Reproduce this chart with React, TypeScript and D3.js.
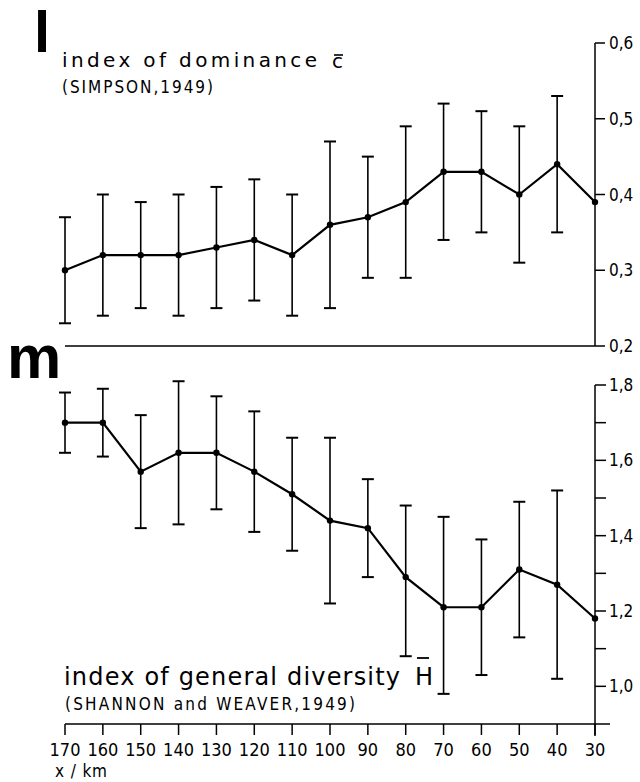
import * as d3 from "d3";

// distance along the transect, km
const km = [170, 160, 150, 140, 130, 120, 110, 100, 90, 80, 70, 60, 50, 40, 30];

// panel l: index of dominance (Simpson)
const dominance = [0.3, 0.32, 0.32, 0.32, 0.33, 0.34, 0.32, 0.36, 0.37, 0.39, 0.43, 0.43, 0.4, 0.44, 0.39];
const dominanceHigh = [0.37, 0.4, 0.39, 0.4, 0.41, 0.42, 0.4, 0.47, 0.45, 0.49, 0.52, 0.51, 0.49, 0.53, null];
const dominanceLow = [0.23, 0.24, 0.25, 0.24, 0.25, 0.26, 0.24, 0.25, 0.29, 0.29, 0.34, 0.35, 0.31, 0.35, null];

// panel m: index of general diversity (Shannon & Weaver)
const diversity = [1.7, 1.7, 1.57, 1.62, 1.62, 1.57, 1.51, 1.44, 1.42, 1.29, 1.21, 1.21, 1.31, 1.27, 1.18];
const diversityHigh = [1.78, 1.79, 1.72, 1.81, 1.77, 1.73, 1.66, 1.66, 1.55, 1.48, 1.45, 1.39, 1.49, 1.52, null];
const diversityLow = [1.62, 1.61, 1.42, 1.43, 1.47, 1.41, 1.36, 1.22, 1.29, 1.08, 0.98, 1.03, 1.13, 1.02, null];

const topTicks = [0.6, 0.5, 0.4, 0.3, 0.2];
const bottomTicks = [1.8, 1.7, 1.6, 1.5, 1.4, 1.3, 1.2, 1.1, 1.0];
const bottomLabelled = [1.8, 1.6, 1.4, 1.2, 1.0];

const W = 640;
const H = 782;
const FONT = "'DejaVu Sans', sans-serif";
const COND = "'DejaVu Sans Condensed', 'DejaVu Sans', sans-serif";
const BOLD = "'Liberation Sans', Arial, sans-serif";
const fmt = (v: number) => v.toFixed(1).replace(".", ",");

const x = d3.scaleLinear().domain([170, 30]).range([65, 595]);
const yTop = d3.scaleLinear().domain([0.2, 0.6]).range([346, 43]);
const yBot = d3.scaleLinear().domain([0.9, 1.8]).range([724, 385]);

function Series({ vals, hi, lo, y }) {
  const line = d3
    .line<number>()
    .x((_, i) => x(km[i]))
    .y((d) => y(d));
  return (
    <g>
      {km.map((k, i) =>
        hi[i] == null ? null : (
          <g key={k} stroke="#000" strokeWidth={1.6}>
            <line x1={x(k)} x2={x(k)} y1={y(hi[i])} y2={y(lo[i])} />
            <line x1={x(k) - 6} x2={x(k) + 6} y1={y(hi[i])} y2={y(hi[i])} strokeWidth={2} />
            <line x1={x(k) - 6} x2={x(k) + 6} y1={y(lo[i])} y2={y(lo[i])} strokeWidth={2} />
          </g>
        )
      )}
      <path d={line(vals) || ""} fill="none" stroke="#000" strokeWidth={2.2} />
      {vals.map((v, i) => (
        <circle key={i} cx={x(km[i])} cy={y(v)} r={3.2} fill="#000" />
      ))}
    </g>
  );
}

export default function App() {
  const axX = x(30);
  return (
    <svg
      width={W}
      height={H}
      style={{ position: "absolute", left: 0, top: 0, background: "#fff" }}
      fontFamily={FONT}
    >
      {/* panel letters */}
      <text x={34} y={52} fontFamily={BOLD} fontWeight="bold" fontSize={58}>
        l
      </text>
      <text x={7} y={378} fontFamily={BOLD} fontWeight="bold" fontSize={61}>
        m
      </text>

      {/* panel l */}
      <text x={62} y={67} fontSize={20} textLength={255} lengthAdjust="spacing">
        index of dominance
      </text>
      <text x={332} y={68} fontSize={20}>
        c
      </text>
      <line x1={334} x2={343} y1={55} y2={55} stroke="#000" strokeWidth={1.6} />
      <text x={62} y={93} fontSize={17} fontFamily={COND} textLength={151} lengthAdjust="spacing">
        (SIMPSON,1949)
      </text>

      <line x1={65} x2={axX} y1={yTop(0.2)} y2={yTop(0.2)} stroke="#000" strokeWidth={1.5} />
      <line x1={axX} x2={axX} y1={yTop(0.6)} y2={yTop(0.2)} stroke="#000" strokeWidth={1.5} />
      {topTicks.map((t) => (
        <g key={t}>
          <line x1={axX} x2={axX + 10} y1={yTop(t)} y2={yTop(t)} stroke="#000" strokeWidth={1.5} />
          <text x={axX + 14} y={yTop(t) + 6} fontSize={17} fontFamily={COND}>
            {fmt(t)}
          </text>
        </g>
      ))}
      <Series vals={dominance} hi={dominanceHigh} lo={dominanceLow} y={yTop} />

      {/* panel m */}
      <line x1={axX} x2={axX} y1={yBot(1.8)} y2={yBot(0.9) + 12} stroke="#000" strokeWidth={1.5} />
      {bottomTicks.map((t) => (
        <g key={t}>
          <line x1={axX} x2={axX + 11} y1={yBot(t)} y2={yBot(t)} stroke="#000" strokeWidth={1.5} />
          {bottomLabelled.includes(t) ? (
            <text x={axX + 14} y={yBot(t) + 6} fontSize={17} fontFamily={COND}>
              {fmt(t)}
            </text>
          ) : null}
        </g>
      ))}
      <Series vals={diversity} hi={diversityHigh} lo={diversityLow} y={yBot} />

      <text x={64} y={685} fontSize={24} textLength={336} lengthAdjust="spacing">
        index of general diversity
      </text>
      <text x={415} y={685} fontSize={24}>
        H
      </text>
      <line x1={417} x2={429} y1={658} y2={658} stroke="#000" strokeWidth={1.8} />
      <text x={65} y={710} fontSize={17} fontFamily={COND} textLength={290} lengthAdjust="spacing">
        (SHANNON and WEAVER,1949)
      </text>

      {/* x axis */}
      <line x1={65} x2={610} y1={724} y2={724} stroke="#000" strokeWidth={1.5} />
      {km.map((k) => (
        <g key={k}>
          <line x1={x(k)} x2={x(k)} y1={724} y2={735} stroke="#000" strokeWidth={1.5} />
          <text x={x(k)} y={756} fontSize={18} fontFamily={COND} textAnchor="middle">
            {k}
          </text>
        </g>
      ))}
      <text x={55} y={777} fontSize={17} fontFamily={COND} textLength={52} lengthAdjust="spacing">
        x / km
      </text>
    </svg>
  );
}
